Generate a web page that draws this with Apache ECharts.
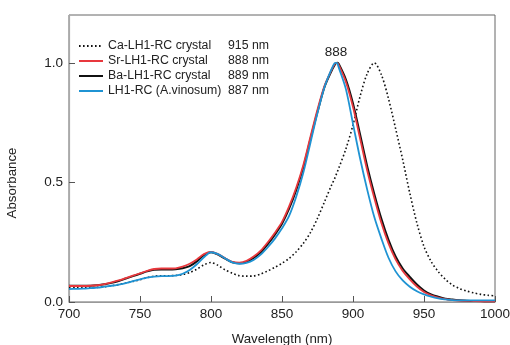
<!DOCTYPE html>
<html>
<head>
<meta charset="utf-8">
<script src="https://cdn.jsdelivr.net/npm/echarts@6/dist/echarts.min.js"></script>
<style>
html,body{margin:0;padding:0;background:#fff;}
#chart{width:510px;height:345px;}
</style>
</head>
<body>
<div id="chart"></div>
<script>
// Wavelength grid (nm)
var wavelengths = [700,705,710,715,720,725,730,735,740,745,750,755,760,765,770,775,780,785,790,795,800,805,810,815,820,825,830,835,840,845,850,855,860,865,870,875,880,885,887,888,889,890,895,900,905,910,915,920,925,930,935,940,945,950,955,960,965,970,975,980,985,990,995,1000];

var caLH1RC = [0.060,0.060,0.060,0.060,0.061,0.064,0.068,0.073,0.079,0.086,0.093,0.102,0.108,0.110,0.110,0.111,0.115,0.123,0.137,0.155,0.165,0.153,0.134,0.120,0.110,0.108,0.109,0.117,0.130,0.145,0.162,0.182,0.210,0.245,0.290,0.350,0.420,0.490,0.515,0.530,0.545,0.560,0.640,0.740,0.860,0.955,1.000,0.950,0.850,0.725,0.595,0.455,0.330,0.232,0.170,0.127,0.095,0.071,0.056,0.046,0.038,0.032,0.028,0.026];

var srLH1RC = [0.067,0.067,0.067,0.068,0.070,0.075,0.082,0.090,0.100,0.110,0.120,0.130,0.138,0.140,0.140,0.141,0.148,0.160,0.178,0.200,0.210,0.200,0.183,0.168,0.165,0.172,0.190,0.215,0.250,0.290,0.335,0.400,0.478,0.572,0.690,0.805,0.905,0.972,0.994,1.000,0.998,0.990,0.920,0.815,0.683,0.550,0.435,0.330,0.245,0.178,0.130,0.095,0.065,0.042,0.028,0.018,0.012,0.008,0.006,0.005,0.004,0.003,0.003,0.003];

var baLH1RC = [0.068,0.068,0.068,0.068,0.070,0.074,0.080,0.088,0.098,0.108,0.118,0.128,0.135,0.136,0.136,0.137,0.141,0.150,0.170,0.196,0.208,0.198,0.181,0.166,0.162,0.168,0.184,0.208,0.242,0.282,0.327,0.390,0.468,0.562,0.680,0.795,0.900,0.968,0.990,0.998,1.000,0.995,0.930,0.830,0.700,0.568,0.452,0.348,0.260,0.190,0.140,0.105,0.073,0.048,0.032,0.022,0.014,0.010,0.007,0.005,0.004,0.004,0.003,0.003];

var avLH1RC = [0.054,0.055,0.056,0.058,0.060,0.064,0.068,0.073,0.079,0.087,0.095,0.102,0.106,0.108,0.108,0.110,0.118,0.134,0.158,0.187,0.208,0.200,0.182,0.166,0.160,0.164,0.176,0.198,0.229,0.265,0.308,0.360,0.440,0.540,0.665,0.790,0.900,0.975,0.998,1.000,0.997,0.980,0.890,0.745,0.600,0.470,0.355,0.265,0.185,0.128,0.090,0.064,0.045,0.032,0.022,0.015,0.011,0.008,0.007,0.007,0.007,0.007,0.007,0.007];

var seriesNames = ['Ca-LH1-RC crystal','Sr-LH1-RC crystal','Ba-LH1-RC crystal','LH1-RC (A.vinosum)'];
var peakNm = ['915','888','889','887'];
var xTicks = [700,750,800,850,900,950,1000];
var yTicks = [0.0,0.5,1.0];
var peakLabel = '888';

function pairs(vals){ return wavelengths.map(function(w,i){ return [w, vals[i]]; }); }

var FONT = 'Liberation Sans';
var chart = echarts.init(document.getElementById('chart'), null, {renderer:'canvas'});

var nameIndex = {};
seriesNames.forEach(function(n,i){ nameIndex[n]=i; });

chart.setOption({
  animation:false,
  backgroundColor:'#ffffff',
  textStyle:{fontFamily:FONT},
  grid:{left:69,right:15,top:15,bottom:43,show:true,borderColor:'#666',borderWidth:1,
    backgroundColor:'transparent',containLabel:false,outerBoundsMode:'none'},
  legend:{
    data:seriesNames,
    orient:'vertical',
    left:73, top:35,
    itemWidth:24, itemHeight:14, itemGap:3,
    itemStyle:{opacity:0,borderWidth:0},
    textStyle:{fontFamily:FONT,fontSize:12.3,color:'#222',
      rich:{
        n:{width:120,fontFamily:FONT,fontSize:12.3,color:'#222',lineHeight:14},
        v:{fontFamily:FONT,fontSize:12.3,color:'#222',lineHeight:14}
      }
    },
    formatter:function(name){ return '{n|'+name+'}{v|'+peakNm[nameIndex[name]]+' nm}'; },
    selectedMode:false
  },
  xAxis:{
    type:'value', min:700, max:1000, interval:50,
    name:'Wavelength (nm)', nameLocation:'middle', nameGap:31,
    nameTextStyle:{fontFamily:FONT,fontSize:13.3,color:'#222'},
    axisLine:{show:true,lineStyle:{color:'#999',width:1.2}},
    axisTick:{show:true,inside:true,length:6,lineStyle:{color:'#555'}},
    axisLabel:{fontFamily:FONT,fontSize:13.5,color:'#222',margin:5,
      formatter:function(v){ return String(v); }},
    splitLine:{show:false}
  },
  yAxis:{
    type:'value', min:0, max:1.2, interval:0.5,
    name:'Absorbance', nameLocation:'middle', nameGap:50,
    nameTextStyle:{fontFamily:FONT,fontSize:13.3,color:'#222',padding:[0,49,0,0]},
    axisLine:{show:true,lineStyle:{color:'#aaa',width:1.2}},
    axisTick:{show:true,inside:true,length:6,lineStyle:{color:'#555'}},
    axisLabel:{fontFamily:FONT,fontSize:13.5,color:'#222',margin:6,showMaxLabel:false,
      formatter:function(v){ return yTicks.some(function(t){return Math.abs(t-v)<1e-9;}) ? v.toFixed(1) : ''; }},
    splitLine:{show:false}
  },
  series:[
    {name:seriesNames[0],type:'line',data:pairs(caLH1RC),symbol:'none',smooth:0.3,z:2,
      lineStyle:{color:'#111',width:1.6,type:[1.6,2.4]},itemStyle:{color:'#111'}},
    {name:seriesNames[2],type:'line',data:pairs(baLH1RC),symbol:'none',smooth:0.3,z:3,
      lineStyle:{color:'#111',width:2},itemStyle:{color:'#111'}},
    {name:seriesNames[1],type:'line',data:pairs(srLH1RC),symbol:'none',smooth:0.3,z:4,
      lineStyle:{color:'#e8383d',width:1.8},itemStyle:{color:'#e8383d'},
      markPoint:{symbol:'circle',symbolSize:0,
        data:[{coord:[888,1.0]}],
        label:{show:true,formatter:peakLabel,position:'top',distance:4,fontFamily:FONT,fontSize:13.5,color:'#222'}}},
    {name:seriesNames[3],type:'line',data:pairs(avLH1RC),symbol:'none',smooth:0.3,z:5,
      lineStyle:{color:'#1f93d3',width:1.8},itemStyle:{color:'#1f93d3'}}
  ]
});
</script>
</body>
</html>
